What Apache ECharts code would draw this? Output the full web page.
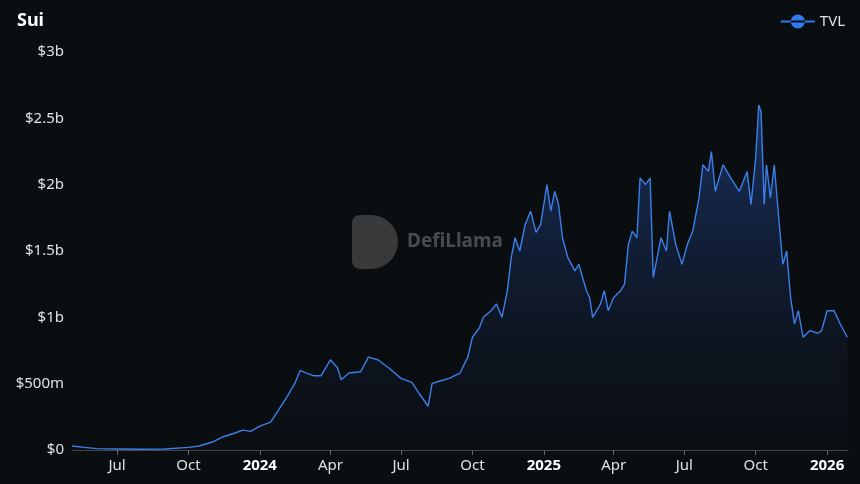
<!DOCTYPE html>
<html><head><meta charset="utf-8">
<script src="https://cdn.jsdelivr.net/npm/echarts@6/dist/echarts.min.js"></script>
<style>html,body{margin:0;padding:0;background:#0b0e11;}#c{width:860px;height:484px;}</style>
</head><body><div id="c"></div>
<script>
const dates = ["2023-05-04","2023-05-20","2023-06-05","2023-07-01","2023-08-01","2023-09-01","2023-10-01","2023-10-15","2023-11-01","2023-11-15","2023-12-01","2023-12-10","2023-12-20","2024-01-01","2024-01-15","2024-01-25","2024-02-05","2024-02-15","2024-02-22","2024-03-01","2024-03-10","2024-03-20","2024-04-01","2024-04-10","2024-04-15","2024-04-25","2024-05-10","2024-05-20","2024-06-01","2024-06-15","2024-07-01","2024-07-15","2024-07-25","2024-08-05","2024-08-10","2024-08-20","2024-09-01","2024-09-15","2024-09-25","2024-10-01","2024-10-10","2024-10-15","2024-10-25","2024-11-01","2024-11-08","2024-11-15","2024-11-20","2024-11-25","2024-12-01","2024-12-08","2024-12-15","2024-12-22","2024-12-28","2025-01-05","2025-01-10","2025-01-15","2025-01-20","2025-01-25","2025-02-01","2025-02-10","2025-02-15","2025-02-25","2025-03-01","2025-03-05","2025-03-15","2025-03-20","2025-03-25","2025-04-01","2025-04-10","2025-04-15","2025-04-20","2025-04-25","2025-05-01","2025-05-05","2025-05-12","2025-05-18","2025-05-22","2025-06-01","2025-06-08","2025-06-12","2025-06-20","2025-06-28","2025-07-05","2025-07-12","2025-07-20","2025-07-25","2025-08-01","2025-08-05","2025-08-10","2025-08-20","2025-08-30","2025-09-10","2025-09-20","2025-09-25","2025-10-01","2025-10-05","2025-10-08","2025-10-12","2025-10-15","2025-10-20","2025-10-25","2025-10-30","2025-11-05","2025-11-10","2025-11-15","2025-11-20","2025-11-25","2025-12-01","2025-12-10","2025-12-20","2025-12-25","2026-01-01","2026-01-10","2026-01-18","2026-01-27"];
const tvl = [30,20,10,8,6,8,20,30,60,100,130,150,140,180,210,300,400,500,600,580,560,560,680,620,530,580,590,700,680,620,540,510,420,330,500,520,540,580,700,850,920,1000,1050,1100,1000,1200,1450,1600,1500,1700,1800,1640,1700,2000,1800,1950,1850,1600,1450,1350,1400,1200,1150,1000,1100,1200,1050,1150,1200,1250,1550,1650,1600,2050,2000,2050,1300,1600,1500,1800,1550,1400,1550,1650,1900,2150,2100,2250,1950,2150,2050,1950,2100,1850,2200,2600,2550,1850,2150,1900,2150,1800,1400,1500,1150,950,1050,850,900,880,900,1050,1050,950,850];
const yTicks = {0:"$0",500:"$500m",1000:"$1b",1500:"$1.5b",2000:"$2b",2500:"$2.5b",3000:"$3b"};
const chart = echarts.init(document.getElementById('c'));
chart.setOption({
  backgroundColor:'#0b0e11',
  title:{text:'Sui',left:12,top:7,textStyle:{color:'#fff',fontSize:18,fontWeight:'bold',fontFamily:'Noto Sans'}},
  legend:{right:10,top:9,itemWidth:34,itemHeight:14,textStyle:{color:'#e0e0e0',fontSize:15,fontFamily:'Noto Sans'},
    data:[{name:'TVL',icon:'path://M0,6 L34,6 L34,8 L0,8 Z M10,7 a7,7 0 1,0 14,0 a7,7 0 1,0 -14,0'}]},
  graphic:[
    {type:'rect',left:352,top:215,shape:{width:46,height:54,r:[8,27,27,8]},style:{fill:'rgba(140,140,140,0.35)'}},
    {type:'text',left:407,top:232,style:{text:'DefiLlama',fill:'rgba(150,150,150,0.45)',font:'bold 19px Noto Sans'}}
  ],
  grid:{left:72,right:12,top:52,bottom:34},
  xAxis:{type:'time',min:'2023-05-04',max:'2026-01-28',minInterval:90*864e5,maxInterval:92*864e5,
    axisLine:{lineStyle:{color:'#444'}},axisTick:{show:true,lineStyle:{color:'#666'}},splitLine:{show:false},
    axisLabel:{color:'#e0e0e0',fontSize:15,fontFamily:'Noto Sans',
      formatter:{year:'{y|{yyyy}}',month:'{MMM}'},rich:{y:{fontWeight:'bold',color:'#fff',fontSize:15,fontFamily:'Noto Sans'}}}},
  yAxis:{type:'value',min:0,max:3000,interval:500,splitLine:{show:false},axisLine:{show:false},axisTick:{show:false},
    axisLabel:{color:'#e0e0e0',fontSize:15,fontFamily:'Noto Sans',formatter:v=>yTicks[v]}},
  series:[{name:'TVL',type:'line',showSymbol:false,symbol:'circle',symbolSize:10,
    data:dates.map((d,i)=>[d,tvl[i]]),
    itemStyle:{color:'#2f7bf0'},lineStyle:{color:'#3b7fe8',width:1.4},
    areaStyle:{color:new echarts.graphic.LinearGradient(0,0,0,1,[{offset:0,color:'rgba(45,100,210,0.6)'},{offset:1,color:'rgba(20,40,80,0.05)'}])}}]
});
</script></body></html>
